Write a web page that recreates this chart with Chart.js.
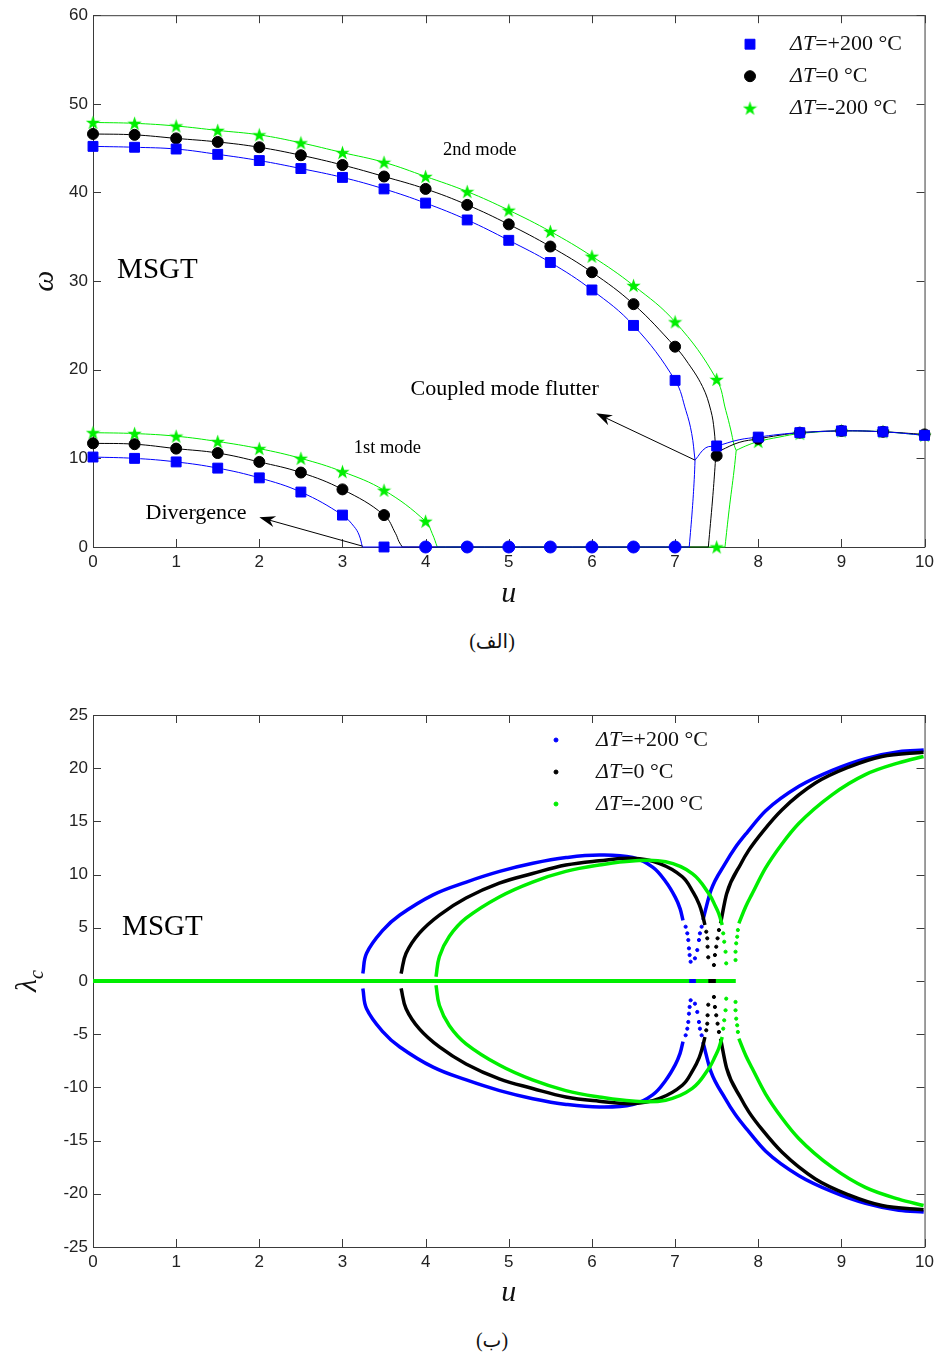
<!DOCTYPE html>
<html lang="fa">
<head>
<meta charset="utf-8">
<title>MSGT - omega and lambda_c versus u</title>
<script src="https://cdn.jsdelivr.net/npm/chart.js@4.4.1/dist/chart.umd.min.js"></script>
<style>
  html, body { margin: 0; background: #fff; }
  body { position: relative; width: 939px; height: 1360px; overflow: hidden; }
  canvas { position: absolute; left: 0; }
  #omegaChart { top: 0; }
  #lambdaChart { top: 680px; }
  .caption { position: absolute; left: 0; width: 984px; text-align: center;
             font: 20px 'Liberation Serif', 'DejaVu Sans', serif; color: #111; }
</style>
</head>
<body>
<canvas id="omegaChart" width="939" height="620"></canvas>
<div class="caption" dir="rtl" style="top:629px">(الف)</div>
<canvas id="lambdaChart" width="939" height="640"></canvas>
<div class="caption" dir="rtl" style="top:1328px">(ب)</div>

<script>
// ---------- (a) frequency ω versus flow velocity u ----------
const uMarks   = [0, 0.5, 1, 1.5, 2, 2.5, 3, 3.5, 4, 4.5, 5, 5.5, 6, 6.5, 7, 7.5];
const uCoupled = [8, 8.5, 9, 9.5, 10];

const blueMode2  = [45.2, 45.1, 44.9, 44.3, 43.6, 42.7, 41.7, 40.4, 38.8, 36.9, 34.6, 32.1, 29.0, 25.0, 18.8, 11.4];
const blackMode2 = [46.6, 46.5, 46.1, 45.7, 45.1, 44.2, 43.1, 41.8, 40.4, 38.6, 36.4, 33.9, 31.0, 27.4, 22.6, 10.3];
const greenMode2 = [47.9, 47.8, 47.5, 47.0, 46.5, 45.6, 44.5, 43.4, 41.8, 40.1, 38.0, 35.6, 32.8, 29.5, 25.4, 18.9];

const blueMode1  = [10.15, 10.0, 9.6, 8.9, 7.8, 6.2, 3.6, 0];
const blackMode1 = [11.7, 11.6, 11.1, 10.6, 9.6, 8.4, 6.5, 3.6];
const greenMode1 = [12.9, 12.8, 12.5, 11.9, 11.1, 10.0, 8.5, 6.4, 2.9];

const blueCoupled  = [12.4, 12.9, 13.1, 13.0, 12.6];
const blackCoupled = [12.2, 12.9, 13.1, 13.0, 12.7];
const greenCoupled = [11.9, 12.8, 13.1, 13.0, 12.6];

const zeroMarksU      = [4, 4.5, 5, 5.5, 6, 6.5, 7];
const greenZeroMarksU = [7.5];

// continuous curves between / beyond the markers, [u, ω]
const blueTail2  = [[7.13, 15.4], [7.2, 12.8], [7.24, 9.8]];
const blackTail2 = [[7.13, 21.1], [7.33, 18.1], [7.43, 15.4], [7.47, 13.2], [7.49, 10.6]];
const greenTail2 = [[7.61, 15.4], [7.67, 13.2], [7.71, 11.5], [7.735, 10.9]];

const blueTail1  = [[3.14, 2.3], [3.2, 1.35], [3.24, 0]];
const blackTail1 = [[3.64, 1.5], [3.68, 0.6], [3.72, 0]];
const greenTail1 = [[4.08, 1.5], [4.14, 0]];

const blueZeroW  = [[3.24, 0], [7.17, 0]];
const blackZeroW = [[3.72, 0], [7.40, 0]];
const greenZeroW = [[4.14, 0], [7.60, 0]];

const blueRise  = [[7.17, 0], [7.207, 4.2], [7.23, 7.6], [7.24, 9.8]];
const blackRise = [[7.40, 0], [7.45, 5.3], [7.48, 9.0], [7.49, 10.6]];
const greenRise = [[7.60, 0], [7.65, 4.2], [7.71, 8.7], [7.735, 10.9]];

const blueFlutter  = [[7.24, 9.8], [7.37, 11.2], [7.5, 11.4], [7.77, 12.1], [8, 12.4], [8.25, 12.7], [8.5, 12.9], [9, 13.1], [9.5, 13.0], [10, 12.6]];
const blackFlutter = [[7.49, 10.6], [7.55, 10.9], [7.77, 11.8], [8, 12.2], [8.25, 12.6], [8.5, 12.9], [9, 13.1], [9.5, 13.0], [10, 12.7]];
const greenFlutter = [[7.735, 10.9], [7.85, 11.4], [8, 11.9], [8.25, 12.4], [8.5, 12.8], [9, 13.1], [9.5, 13.0], [10, 12.6]];

// ---------- (b) real part λc versus u, [u, λc] ----------
const blueLoopUp = [[3.245, 0.7], [3.29, 2.6], [3.49, 4.8], [3.69, 6.2], [4.09, 8.1], [4.49, 9.3], [4.89, 10.3], [5.29, 11.06], [5.69, 11.6], [6.09, 11.84], [6.49, 11.6], [6.73, 10.7], [6.89, 9.3], [7.0, 7.9], [7.06, 6.8], [7.095, 5.7]];
const blueLoopDn = [[3.245, -0.7], [3.29, -2.6], [3.49, -4.8], [3.69, -6.2], [4.09, -8.1], [4.49, -9.3], [4.89, -10.3], [5.29, -11.06], [5.69, -11.6], [6.09, -11.84], [6.49, -11.6], [6.73, -10.7], [6.89, -9.3], [7.0, -7.9], [7.06, -6.8], [7.095, -5.7]];
const blueRightUp = [[7.335, 5.73], [7.43, 8.5], [7.6, 11.0], [7.72, 12.5], [7.87, 14.0], [8.09, 16.0], [8.49, 18.3], [8.89, 19.8], [9.29, 20.9], [9.69, 21.55], [9.99, 21.7]];
const blueRightDn = [[7.335, -5.73], [7.43, -8.5], [7.6, -11.0], [7.72, -12.5], [7.87, -14.0], [8.09, -16.0], [8.49, -18.3], [8.89, -19.8], [9.29, -20.9], [9.69, -21.55], [9.99, -21.7]];
const blueDots = [[7.127, 5.1], [7.147, 4.48], [7.159, 3.85], [7.167, 3.07], [7.175, 2.44], [7.187, 1.81], [7.239, 2.13], [7.267, 2.91], [7.287, 3.85], [7.299, 4.48], [7.319, 5.1],
                  [7.127, -5.1], [7.147, -4.48], [7.159, -3.85], [7.167, -3.07], [7.175, -2.44], [7.187, -1.81], [7.239, -2.13], [7.267, -2.91], [7.287, -3.85], [7.299, -4.48], [7.319, -5.1]];

const blackLoopUp = [[3.705, 0.7], [3.765, 2.6], [3.925, 4.5], [4.166, 6.2], [4.486, 7.8], [4.886, 9.2], [5.286, 10.1], [5.686, 10.9], [6.086, 11.3], [6.486, 11.53], [6.807, 11.06], [7.087, 9.8], [7.22, 8.3], [7.29, 7.2], [7.33, 6.2], [7.359, 5.26]];
const blackLoopDn = [[3.705, -0.7], [3.765, -2.6], [3.925, -4.5], [4.166, -6.2], [4.486, -7.8], [4.886, -9.2], [5.286, -10.1], [5.686, -10.9], [6.086, -11.3], [6.486, -11.53], [6.807, -11.06], [7.087, -9.8], [7.22, -8.3], [7.29, -7.2], [7.33, -6.2], [7.359, -5.26]];
const blackRightUp = [[7.547, 5.42], [7.62, 8.2], [7.79, 11.0], [7.887, 12.3], [8.05, 14.0], [8.287, 16.1], [8.687, 18.6], [9.088, 20.1], [9.488, 21.1], [9.988, 21.5]];
const blackRightDn = [[7.547, -5.42], [7.62, -8.2], [7.79, -11.0], [7.887, -12.3], [8.05, -14.0], [8.287, -16.1], [8.687, -18.6], [9.088, -20.1], [9.488, -21.1], [9.988, -21.5]];
const blackDots = [[7.375, 4.63], [7.387, 4.01], [7.391, 3.22], [7.399, 2.23], [7.467, 1.5], [7.479, 2.44], [7.495, 3.22], [7.511, 4.01], [7.527, 4.79],
                   [7.375, -4.63], [7.387, -4.01], [7.391, -3.22], [7.399, -2.23], [7.467, -1.5], [7.479, -2.44], [7.495, -3.22], [7.511, -4.01], [7.527, -4.79]];

const greenLoopUp = [[4.125, 0.4], [4.166, 2.3], [4.286, 4.2], [4.486, 5.9], [4.886, 7.9], [5.286, 9.3], [5.686, 10.3], [6.086, 10.9], [6.486, 11.28], [6.887, 11.2], [7.207, 10.1], [7.407, 8.2], [7.487, 7.0], [7.527, 6.3], [7.567, 5.26]];
const greenLoopDn = [[4.125, -0.4], [4.166, -2.3], [4.286, -4.2], [4.486, -5.9], [4.886, -7.9], [5.286, -9.3], [5.686, -10.3], [6.086, -10.9], [6.486, -11.28], [6.887, -11.2], [7.207, -10.1], [7.407, -8.2], [7.487, -7.0], [7.527, -6.3], [7.567, -5.26]];
const greenRightUp = [[7.767, 5.42], [7.85, 7.0], [7.927, 8.2], [8.087, 10.6], [8.287, 12.9], [8.487, 14.8], [8.887, 17.5], [9.288, 19.4], [9.688, 20.5], [9.988, 21.1]];
const greenRightDn = [[7.767, -5.42], [7.85, -7.0], [7.927, -8.2], [8.087, -10.6], [8.287, -12.9], [8.487, -14.8], [8.887, -17.5], [9.288, -19.4], [9.688, -20.5], [9.988, -21.1]];
const greenDots = [[7.579, 4.48], [7.591, 3.69], [7.607, 2.75], [7.615, 1.66], [7.727, 1.97], [7.727, 2.75], [7.735, 3.54], [7.747, 4.16], [7.755, 4.79],
                   [7.579, -4.48], [7.591, -3.69], [7.607, -2.75], [7.615, -1.66], [7.727, -1.97], [7.727, -2.75], [7.735, -3.54], [7.747, -4.16], [7.755, -4.79]];

const greenZeroL = [[0, 0], [7.73, 0]];
const blueZeroL  = [[7.17, 0], [7.25, 0]];
const blackZeroL = [[7.40, 0], [7.49, 0]];

const legendLabels = ['=+200 °C', '=0 °C', '=-200 °C'];

const BLUE = '#0000ff', BLACK = '#000000', GREEN = '#00ee00';
const SERIF = "'Liberation Serif', 'Times New Roman', serif";

Chart.defaults.font.family = "'Liberation Sans', Arial, sans-serif";
Chart.defaults.color = '#222';

const toPts = pairs => pairs.map(([x, y]) => ({ x, y }));
const zipPts = (us, vs) => vs.map((v, i) => ({ x: us[i], y: v }));

function curve(data, color, width, order, mode) {
  return { data, showLine: true, borderColor: color, borderWidth: width, pointRadius: 0,
           pointHoverRadius: 0, tension: 0.4, cubicInterpolationMode: mode || 'default',
           clip: false, order };
}
function marks(data, style, radius, color, order, legendText) {
  return { data, showLine: false, pointStyle: style, pointRadius: radius, pointHoverRadius: radius,
           pointBackgroundColor: color, pointBorderColor: color, pointBorderWidth: 1,
           clip: false, order, legendText, legendColor: color };
}

// filled five-point star (MATLAB pentagram)
function starImage(size, color) {
  const c = document.createElement('canvas');
  c.width = c.height = size;
  const g = c.getContext('2d');
  g.fillStyle = color;
  g.beginPath();
  for (let i = 0; i < 10; i++) {
    const r = i % 2 ? size * 0.2 : size * 0.5;
    const a = -Math.PI / 2 + i * Math.PI / 5;
    g.lineTo(size / 2 + r * Math.cos(a), size / 2 + 0.6 + r * Math.sin(a));
  }
  g.closePath();
  g.fill();
  return c;
}
const greenStar = starImage(15, GREEN);

function drawArrow(ctx, x0, y0, x1, y1) {
  const ang = Math.atan2(y1 - y0, x1 - x0), c = Math.cos(ang), s = Math.sin(ang);
  ctx.beginPath();
  ctx.moveTo(x0, y0);
  ctx.lineTo(x1 - 8 * c, y1 - 8 * s);
  ctx.stroke();
  const L = 16, W = 5.5, N = 11;
  ctx.beginPath();
  ctx.moveTo(x1, y1);
  ctx.lineTo(x1 - L * c + W * s, y1 - L * s - W * c);
  ctx.lineTo(x1 - N * c, y1 - N * s);
  ctx.lineTo(x1 - L * c - W * s, y1 - L * s + W * c);
  ctx.closePath();
  ctx.fill();
}

// box around the plot with inward ticks on all four sides
const framePlugin = {
  id: 'frame',
  beforeDatasetsDraw(chart) {
    const { ctx, chartArea: a, scales: { x, y } } = chart;
    ctx.save();
    ctx.strokeStyle = '#3a3a3a';
    ctx.lineWidth = 1;
    ctx.beginPath();
    ctx.rect(a.left + 0.5, a.top + 0.5, a.right - a.left, a.bottom - a.top);
    x.ticks.forEach(t => {
      const px = Math.round(x.getPixelForValue(t.value)) + 0.5;
      ctx.moveTo(px, a.bottom); ctx.lineTo(px, a.bottom - 8);
      ctx.moveTo(px, a.top); ctx.lineTo(px, a.top + 8);
    });
    y.ticks.forEach(t => {
      const py = Math.round(y.getPixelForValue(t.value)) + 0.5;
      ctx.moveTo(a.left, py); ctx.lineTo(a.left + 8, py);
      ctx.moveTo(a.right, py); ctx.lineTo(a.right - 8, py);
    });
    ctx.stroke();
    ctx.restore();
  }
};

// annotations, legend and axis titles
function makeNotes(cfg) {
  return {
    id: 'notes',
    afterDatasetsDraw(chart) {
      const { ctx, chartArea: a, scales: { x, y } } = chart;
      ctx.save();
      ctx.fillStyle = '#000';
      ctx.strokeStyle = '#000';
      ctx.lineWidth = 1;
      (cfg.arrows || []).forEach(([u0, v0, u1, v1]) =>
        drawArrow(ctx, x.getPixelForValue(u0), y.getPixelForValue(v0), x.getPixelForValue(u1), y.getPixelForValue(v1)));
      ctx.textBaseline = 'alphabetic';
      (cfg.texts || []).forEach(t => {
        ctx.font = `${t.size}px ${SERIF}`;
        ctx.textAlign = t.align;
        ctx.fillText(t.text, x.getPixelForValue(t.u), y.getPixelForValue(t.v));
      });

      // legend
      const lg = cfg.legend;
      const items = chart.data.datasets.filter(d => d.legendText);
      ctx.textAlign = 'left';
      ctx.textBaseline = 'middle';
      items.forEach((d, i) => {
        const mx = a.left + lg.dx, my = a.top + lg.dy + i * 32;
        ctx.fillStyle = d.legendColor;
        ctx.strokeStyle = d.legendColor;
        Chart.helpers.drawPoint(ctx, { pointStyle: d.pointStyle, radius: lg.radius || d.pointRadius,
                                       rotation: 0, borderWidth: 1 }, mx, my);
        ctx.fillStyle = '#111';
        ctx.font = `italic 22px ${SERIF}`;
        ctx.fillText('ΔT', mx + 40, my);
        const w = ctx.measureText('ΔT').width;
        ctx.font = `22px ${SERIF}`;
        ctx.fillText(d.legendText, mx + 40 + w, my);
      });

      // x title
      ctx.textBaseline = 'alphabetic';
      ctx.textAlign = 'center';
      ctx.fillStyle = '#111';
      ctx.font = `italic 30px ${SERIF}`;
      ctx.fillText(cfg.xTitle, (a.left + a.right) / 2, a.bottom + cfg.xTitleDy);

      // y title, rotated
      ctx.save();
      ctx.translate(a.left - cfg.yTitleDx, (a.top + a.bottom) / 2);
      ctx.rotate(-Math.PI / 2);
      ctx.textAlign = 'left';
      let total = 0;
      const parts = cfg.yTitle.map(p => {
        ctx.font = `italic ${p.size}px ${SERIF}`;
        const w = ctx.measureText(p.text).width;
        total += w;
        return { ...p, w };
      });
      let cx = -total / 2;
      parts.forEach(p => {
        ctx.font = `italic ${p.size}px ${SERIF}`;
        ctx.fillText(p.text, cx, p.shift || 0);
        cx += p.w;
      });
      ctx.restore();
      ctx.restore();
    }
  };
}

function axes(yMin, yMax, yStep, xHeight) {
  const tickFont = { family: "'Liberation Sans', Arial, sans-serif", size: 17 };
  return {
    x: { type: 'linear', min: 0, max: 10,
         ticks: { stepSize: 1, font: tickFont, color: '#222', padding: 5, maxRotation: 0 },
         grid: { display: false, drawTicks: false }, border: { display: false },
         afterFit: s => { s.height = xHeight; } },
    y: { type: 'linear', min: yMin, max: yMax,
         ticks: { stepSize: yStep, font: tickFont, color: '#222', padding: 5 },
         grid: { display: false, drawTicks: false }, border: { display: false },
         afterFit: s => { s.width = 93; } }
  };
}

const commonOpts = {
  responsive: false,
  animation: false,
  events: [],
  plugins: { legend: { display: false }, tooltip: { enabled: false } }
};

// ---------- chart (a) ----------
const omegaSets = [
  marks(zipPts(uMarks, blueMode2).concat(zipPts(uMarks, blueMode1), zipPts(uCoupled, blueCoupled)),
        'rect', 7, BLUE, 2, legendLabels[0]),
  marks(zipPts(uMarks, blackMode2).concat(zipPts(uMarks, blackMode1), zipPts(uCoupled, blackCoupled)),
        'circle', 5.5, BLACK, 3, legendLabels[1]),
  marks(zipPts(uMarks, greenMode2).concat(zipPts(uMarks, greenMode1), zipPts(uCoupled, greenCoupled),
                                          greenZeroMarksU.map(u => ({ x: u, y: 0 }))),
        greenStar, 7, GREEN, 4, legendLabels[2]),
  marks(zeroMarksU.map(u => ({ x: u, y: 0 })), 'circle', 6, BLUE, 1),

  curve(zipPts(uMarks.slice(0, 15), blueMode2.slice(0, 15)).concat(toPts(blueTail2)), BLUE, 1, 10),
  curve(zipPts(uMarks.slice(0, 7), blueMode1.slice(0, 7)).concat(toPts(blueTail1)), BLUE, 1, 10),
  curve(toPts(blueZeroW), BLUE, 1, 10),
  curve(toPts(blueRise), BLUE, 1, 10),
  curve(toPts(blueFlutter), BLUE, 1, 10),

  curve(zipPts(uMarks.slice(0, 15), blackMode2.slice(0, 15)).concat(toPts(blackTail2)), BLACK, 1, 11),
  curve(zipPts(uMarks.slice(0, 8), blackMode1).concat(toPts(blackTail1)), BLACK, 1, 11),
  curve(toPts(blackZeroW), BLACK, 1, 11),
  curve(toPts(blackRise), BLACK, 1, 11),
  curve(toPts(blackFlutter), BLACK, 1, 11),

  curve(zipPts(uMarks, greenMode2).concat(toPts(greenTail2)), GREEN, 1, 12),
  curve(zipPts(uMarks.slice(0, 9), greenMode1).concat(toPts(greenTail1)), GREEN, 1, 12),
  curve(toPts(greenZeroW), GREEN, 1, 12),
  curve(toPts(greenRise), GREEN, 1, 12),
  curve(toPts(greenFlutter), GREEN, 1, 12)
];

new Chart(document.getElementById('omegaChart'), {
  type: 'scatter',
  data: { datasets: omegaSets },
  options: {
    ...commonOpts,
    layout: { padding: { top: 15, right: 13, left: 0, bottom: 0 }, autoPadding: false },
    scales: axes(0, 60, 10, 73)
  },
  plugins: [framePlugin, makeNotes({
    texts: [
      { text: '2nd mode', u: 4.65, v: 44.2, size: 18.5, align: 'center' },
      { text: 'MSGT', u: 0.29, v: 30.3, size: 29, align: 'left' },
      { text: '1st mode', u: 3.54, v: 10.6, size: 18.5, align: 'center' },
      { text: 'Divergence', u: 1.24, v: 3.2, size: 22, align: 'center' },
      { text: 'Coupled mode flutter', u: 4.95, v: 17.1, size: 22, align: 'center' }
    ],
    arrows: [[3.24, 0.1, 2.0, 3.35], [7.24, 9.8, 6.05, 15.08]],
    legend: { dx: 657, dy: 29 },
    xTitle: 'u', xTitleDy: 55,
    yTitle: [{ text: 'ω', size: 30 }], yTitleDx: 40
  })]
});

// ---------- chart (b) ----------
const M = 'monotone';
const lambdaSets = [
  marks(toPts(blueDots), 'circle', 1.6, BLUE, 5, legendLabels[0]),
  marks(toPts(blackDots), 'circle', 1.6, BLACK, 4, legendLabels[1]),
  marks(toPts(greenDots), 'circle', 1.6, GREEN, 3, legendLabels[2]),

  curve(toPts(blueZeroL), BLUE, 4, 0),
  curve(toPts(blackZeroL), BLACK, 4, 0),
  curve(toPts(greenZeroL), GREEN, 4, 1),

  curve(toPts(greenLoopUp), GREEN, 3.5, 2),
  curve(toPts(greenLoopDn), GREEN, 3.5, 2),
  curve(toPts(greenRightUp), GREEN, 3.5, 2, M),
  curve(toPts(greenRightDn), GREEN, 3.5, 2, M),

  curve(toPts(blackLoopUp), BLACK, 3.5, 6),
  curve(toPts(blackLoopDn), BLACK, 3.5, 6),
  curve(toPts(blackRightUp), BLACK, 3.5, 6, M),
  curve(toPts(blackRightDn), BLACK, 3.5, 6, M),

  curve(toPts(blueLoopUp), BLUE, 3.5, 7),
  curve(toPts(blueLoopDn), BLUE, 3.5, 7),
  curve(toPts(blueRightUp), BLUE, 3.5, 7, M),
  curve(toPts(blueRightDn), BLUE, 3.5, 7, M)
];

new Chart(document.getElementById('lambdaChart'), {
  type: 'scatter',
  data: { datasets: lambdaSets },
  options: {
    ...commonOpts,
    layout: { padding: { top: 35, right: 13, left: 0, bottom: 0 }, autoPadding: false },
    scales: axes(-25, 25, 5, 73)
  },
  plugins: [framePlugin, makeNotes({
    texts: [
      { text: 'MSGT', u: 0.35, v: 4.3, size: 29, align: 'left' }
    ],
    arrows: [],
    legend: { dx: 463, dy: 25, radius: 2 },
    xTitle: 'u', xTitleDy: 54,
    yTitle: [{ text: 'λ', size: 30 }, { text: 'c', size: 20, shift: 7 }], yTitleDx: 57
  })]
});
</script>
</body>
</html>
